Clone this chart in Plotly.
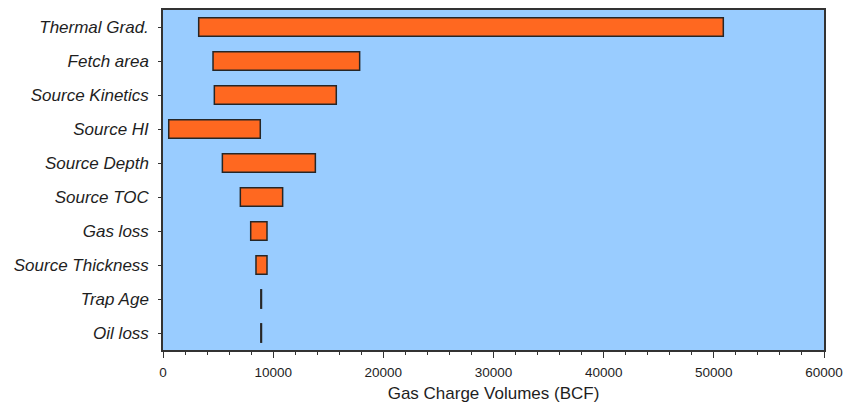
import plotly.graph_objects as go

categories = ["Thermal Grad.", "Fetch area", "Source Kinetics", "Source HI", "Source Depth",
              "Source TOC", "Gas loss", "Source Thickness", "Trap Age", "Oil loss"]
low_values = [3240, 4540, 4660, 520, 5390, 7020, 7960, 8440, 8880, 8880]
high_values = [50860, 17850, 15730, 8830, 13830, 10860, 9440, 9440, 8940, 8940]
x_tick_values = [0, 10000, 20000, 30000, 40000, 50000, 60000]
x_title = "Gas Charge Volumes (BCF)"

widths = [h - l for l, h in zip(low_values, high_values)]

fig = go.Figure(go.Bar(
    y=categories,
    x=widths,
    base=low_values,
    orientation="h",
    width=0.54,
    marker=dict(color="#FF6820", line=dict(color="#262626", width=1.5)),
    hoverinfo="skip",
))

fig.update_layout(
    width=843, height=403,
    margin=dict(l=163, r=19, t=10, b=53),
    paper_bgcolor="white",
    plot_bgcolor="#99CCFF",
    showlegend=False,
    font=dict(family="Liberation Sans, Arial, sans-serif", color="#1e1e1e"),
)

fig.update_xaxes(
    range=[0, 60000],
    automargin=False,
    tickvals=x_tick_values,
    ticktext=[str(v) for v in x_tick_values],
    ticks="outside", ticklen=6, tickwidth=1.2, tickcolor="#333333",
    minor=dict(dtick=2000, ticks="outside", ticklen=3, tickwidth=1, tickcolor="#333333", showgrid=False),
    showgrid=False, zeroline=False,
    showline=True, linecolor="#333333", linewidth=1.5, mirror=True,
    tickfont=dict(size=13.5, color="#1e1e1e"),
    ticklabelstandoff=3,
    ticklabeloverflow="allow",
    title=dict(text=x_title, font=dict(size=17, color="#1e1e1e"), standoff=9),
)

fig.update_yaxes(
    categoryorder="array", categoryarray=categories,
    automargin=False,
    autorange=False, range=[9.5, -0.5],
    ticks="outside", ticklen=3, tickwidth=1.2, tickcolor="#333333",
    showgrid=False, zeroline=False,
    showline=True, linecolor="#333333", linewidth=1.5, mirror=True,
    tickfont=dict(size=17, color="#1e1e1e", style="italic"),
    ticklabelstandoff=6,
)

fig.write_html(
    "out.html",
    config={"displayModeBar": False},
    post_script="document.body.style.margin='0';document.body.style.overflow='hidden';",
)
